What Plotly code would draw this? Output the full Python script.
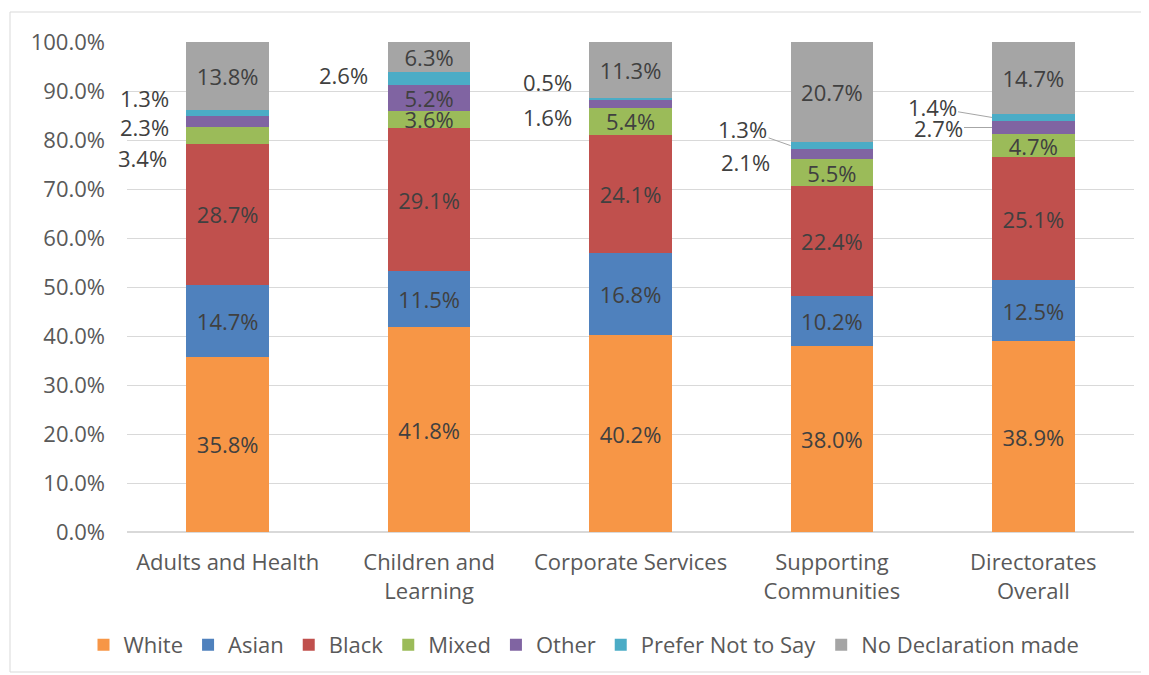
import plotly.graph_objects as go

categories = ["Adults and Health", "Children and<br>Learning", "Corporate Services",
              "Supporting<br>Communities", "Directorates<br>Overall"]
series_names = ["White", "Asian", "Black", "Mixed", "Other", "Prefer Not to Say", "No Declaration made"]
white = [35.8, 41.8, 40.2, 38.0, 38.9]
asian = [14.7, 11.5, 16.8, 10.2, 12.5]
black = [28.7, 29.1, 24.1, 22.4, 25.1]
mixed = [3.4, 3.6, 5.4, 5.5, 4.7]
other = [2.3, 5.2, 1.6, 2.1, 2.7]
prefer = [1.3, 2.6, 0.5, 1.3, 1.4]
no_decl = [13.8, 6.3, 11.3, 20.7, 14.7]
y_ticks = [0, 10, 20, 30, 40, 50, 60, 70, 80, 90, 100]
y_tick_labels = [f"{v:.1f}%" for v in y_ticks]

series_values = [white, asian, black, mixed, other, prefer, no_decl]
colors = ["#F79646", "#4F81BD", "#C0504D", "#9BBB59", "#8064A2", "#4BACC6", "#A5A5A5"]

# labels drawn outside the bar: (series index, category index) -> (text y, xshift, leader offsets or None)
outside = {
    (3, 0): (76.3, -85, None),
    (4, 0): (82.7, -83, None),
    (5, 0): (88.6, -83, None),
    (5, 1): (93.3, -86, None),
    (4, 2): (84.7, -83, None),
    (5, 2): (91.8, -83, None),
    (4, 3): (75.5, -86, None),
    (5, 3): (None, None, (-48, -17)),
    (4, 4): (None, None, (-54, 0)),
    (5, 4): (None, None, (-60, -10)),
}

FONT = "Open Sans"
TXT = "#404040"
AX = "#595959"
FS = 22
BW = 0.41

fig = go.Figure()
for si, (name, vals, col) in enumerate(zip(series_names, series_values, colors)):
    texts = ["" if (si, ci) in outside else f"{v:.1f}%" for ci, v in enumerate(vals)]
    fig.add_trace(go.Bar(
        name=name, x=categories, y=vals, marker=dict(color=col, line=dict(width=0)),
        width=BW, text=texts, texttemplate="%{text}", textposition="inside",
        insidetextanchor="middle", textangle=0,
        textfont=dict(family=FONT, size=FS, color=TXT), hoverinfo="skip",
    ))

annotations = []
for (si, ci), (ty, xs, leader) in outside.items():
    vals = series_values[si]
    label = f"{vals[ci]:.1f}%"
    if leader is None:
        annotations.append(dict(x=ci, y=ty, xref="x", yref="y", text=label, showarrow=False,
                                xshift=xs, font=dict(family=FONT, size=FS, color=TXT)))
    else:
        base = sum(series_values[k][ci] for k in range(si))
        mid = base + vals[ci] / 2
        annotations.append(dict(x=ci - BW / 2, y=mid, xref="x", yref="y", text=label,
                                showarrow=True, arrowhead=0, arrowwidth=1, arrowcolor="#A6A6A6",
                                ax=leader[0], ay=leader[1], standoff=0,
                                font=dict(family=FONT, size=FS, color=TXT)))

OFF = 8  # page body margin
W, H = 1149 - OFF, 675 - OFF
L, T = 127 - OFF, 42 - OFF
R = W - (1134 - OFF)
B = H - (532 - OFF)
pw, ph = W - L - R, H - T - B

def px_x(p):
    return (p - OFF - L) / pw

def px_y(p):
    return (H - B - (p - OFF)) / ph

fig.update_layout(
    width=W, height=H, barmode="stack", bargap=0.59,
    margin=dict(l=L, r=R, t=T, b=B, autoexpand=False),
    paper_bgcolor="white", plot_bgcolor="white",
    font=dict(family=FONT, size=FS, color=AX),
    uniformtext=dict(minsize=FS, mode="show"),
    xaxis=dict(range=[-0.5, len(categories) - 0.5], autorange=False, showgrid=False,
               showline=False, ticks="", tickfont=dict(size=FS, color=AX),
               ticklabelstandoff=15, automargin=False),
    yaxis=dict(range=[0, 100], autorange=False, tickmode="array", tickvals=y_ticks,
               ticktext=y_tick_labels, automargin=False,
               showgrid=True, gridcolor="#D9D9D9", gridwidth=1, zeroline=True,
               zerolinecolor="#D9D9D9", showline=False, ticks="", ticklabelstandoff=21,
               tickfont=dict(size=FS, color=AX)),
    legend=dict(orientation="h", x=px_x(584), xanchor="center", y=px_y(645), yanchor="middle",
                font=dict(size=FS, color=AX), traceorder="normal", itemwidth=30),
    annotations=annotations,
    shapes=[dict(type="rect", xref="paper", yref="paper",
                 x0=px_x(10), x1=px_x(1147), y0=px_y(672), y1=px_y(12),
                 line=dict(color="#D9D9D9", width=1), fillcolor="rgba(0,0,0,0)", layer="below")],
)

fig.write_html("out.html")
